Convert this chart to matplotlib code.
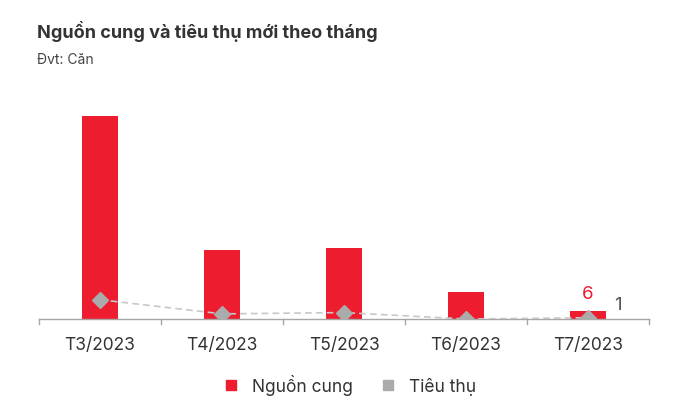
import matplotlib
matplotlib.use("Agg")
import matplotlib.pyplot as plt
from matplotlib.lines import Line2D

# data (units: căn)
months = ["T3/2023", "T4/2023", "T5/2023", "T6/2023", "T7/2023"]
supply = [158, 54, 55, 21, 6]      # Nguồn cung
sales = [15, 4, 5, 0, 1]           # Tiêu thụ

RED = "#ED1C2E"; GREY = "#ABABAB"; LINE = "#C8C8C8"; INK = "#333333"
plt.rcParams["font.family"] = ["Inter", "DejaVu Sans"]

fig = plt.figure(figsize=(6.82, 4.15), dpi=100)
ax = fig.add_axes([39 / 682, 1 - 319 / 415, 610 / 682, 239 / 415])

x = list(range(len(months)))
ax.bar(x, supply, width=0.30, color=RED, zorder=2)
ax.plot(x, sales, ls=(0, (4, 2.5)), lw=1.2, color=LINE, zorder=3)
ax.plot(x, sales, ls="none", marker="D", ms=8.5, color=GREY, mec=GREY, zorder=4)

# only the last month carries value labels
ax.annotate(f"{supply[-1]}", (x[-1], supply[-1]), textcoords="offset points",
            xytext=(0, 6), ha="center", va="bottom", fontsize=13.5, color=RED)
ax.annotate(f"{sales[-1]}", (x[-1], sales[-1]), textcoords="offset points",
            xytext=(19, 3), ha="left", va="bottom", fontsize=13.5, color="#555555")

ax.set_xlim(-0.5, len(months) - 0.5)
ax.set_ylim(0, 186)
ax.set_yticks([])
ax.set_xticks(x)
ax.set_xticklabels(months, fontsize=12.5, color=INK)
ax.tick_params(axis="x", length=0, pad=13)
for s in ["top", "right", "left"]:
    ax.spines[s].set_visible(False)
ax.spines["bottom"].set_color("#A6A6A6")
ax.spines["bottom"].set_linewidth(1.0)
# small boundary ticks between the categories
for b in [i - 0.5 for i in range(len(months) + 1)]:
    ax.plot([b, b], [0, -4], color="#A6A6A6", lw=1.0, clip_on=False)

fig.text(37 / 682, 1 - 31 / 415, "Nguồn cung và tiêu thụ mới theo tháng",
         fontsize=13, fontweight="bold", color=INK, va="center")
fig.text(37 / 682, 1 - 60 / 415, "Đvt: Căn", fontsize=10, color="#444444", va="center")

handles = [Line2D([], [], ls="none", marker="s", ms=7, color=RED),
           Line2D([], [], ls="none", marker="s", ms=7, color=GREY)]
fig.legend(handles, ["Nguồn cung", "Tiêu thụ"], loc="center",
           bbox_to_anchor=(345 / 682, 1 - 385 / 415), ncol=2, frameon=False,
           fontsize=12.5, handletextpad=0.2, columnspacing=1.0, labelcolor=INK)

fig.savefig("out.png", dpi=100)
